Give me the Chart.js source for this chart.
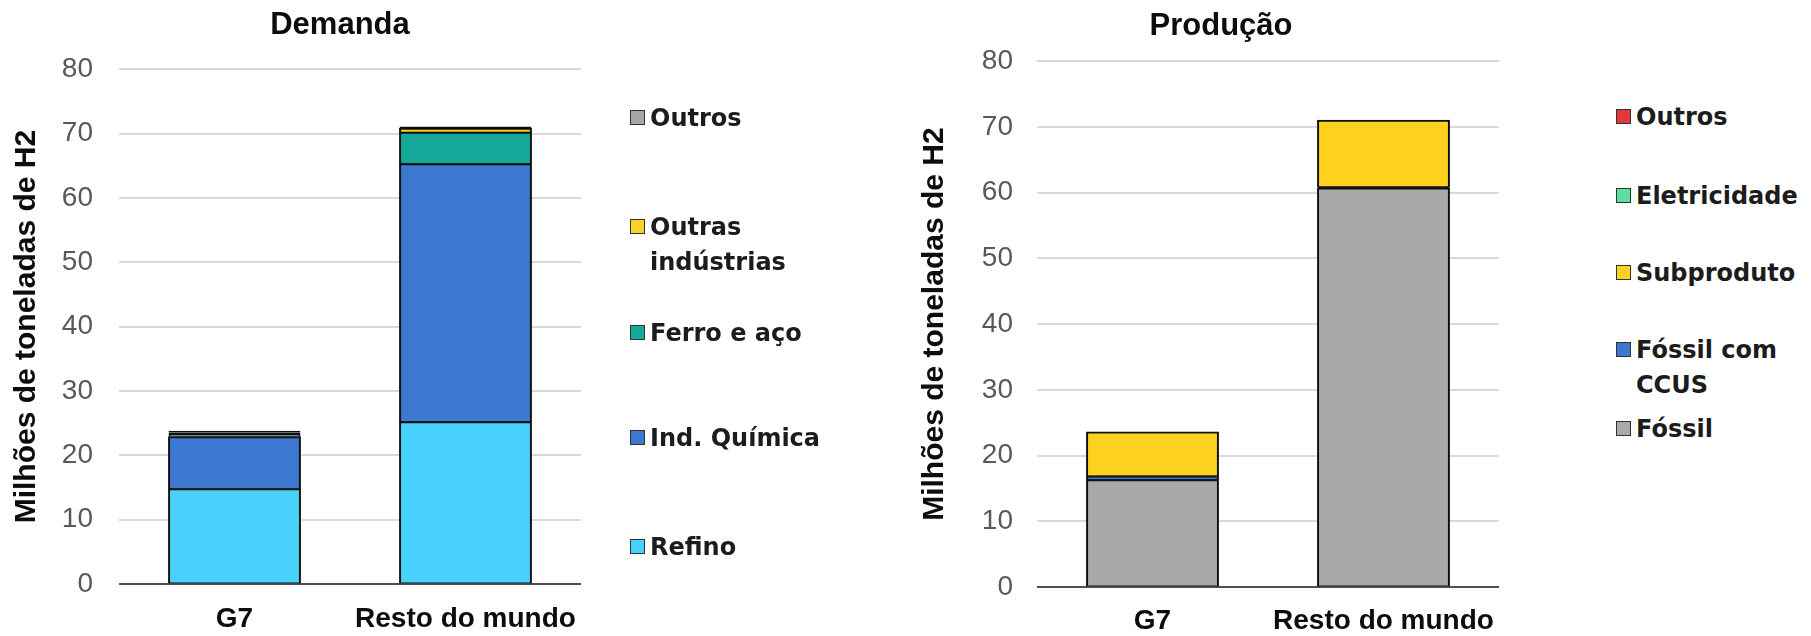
<!DOCTYPE html>
<html>
<head>
<meta charset="utf-8">
<script src="https://cdn.jsdelivr.net/npm/chart.js@4.4.1/dist/chart.umd.min.js"></script>
<style>
html,body{margin:0;padding:0;background:#ffffff;width:1811px;height:636px;overflow:hidden;position:relative;}
canvas{position:absolute;top:0;}
#c1{left:0px;}
#c2{left:900px;}
.lg{position:absolute;font-family:"DejaVu Sans",Verdana,sans-serif;font-weight:bold;font-size:24px;line-height:35px;color:#1c1c1c;z-index:2;}
.lg .sw{position:absolute;left:0;top:9.5px;width:13px;height:13px;border:1.5px solid #333333;}
.lg .tx{position:absolute;left:20px;top:0;white-space:nowrap;}
</style>
</head>
<body>
<canvas id="c1" width="680" height="636"></canvas>
<canvas id="c2" width="642" height="636"></canvas>
<script>
// ---- data ----
const categories = ['G7', 'Resto do mundo'];
const yAxisTicks = [0, 10, 20, 30, 40, 50, 60, 70, 80];
const yAxisTitle = 'Milhões de toneladas de H2';

// Demanda (bottom to top)
const demRefino = [14.8, 25.2];
const demQuimica = [8.1, 40.1];
const demFerroAco = [0.4, 4.9];
const demOutrasInd = [0.3, 0.6];
const demOutros = [0.2, 0.3];

// Produção (bottom to top)
const prodFossil = [16.3, 60.7];
const prodFossilCCUS = [0.6, 0.2];
const prodSubproduto = [6.7, 10.1];
const prodEletricidade = [0, 0];
const prodOutros = [0, 0];

Chart.defaults.font.family = '"Liberation Sans", Arial, sans-serif';

const barBorder = {top: 2, left: 2, right: 2, bottom: 1};
function ds(label, data, color) {
  return {
    label, data, backgroundColor: color, borderColor: '#111111',
    borderWidth: barBorder, borderSkipped: false,
    // very thin segments render as solid outline (as in the original)
    inflateAmount: c => (Math.abs(c.raw) < 0.5 ? 0 : 0.5),
    yAxisID: 'y', xAxisID: 'x',
    categoryPercentage: 1.0, barPercentage: 0.571
  };
}

function makeChart(id, title, datasets, L) {
  return new Chart(document.getElementById(id), {
    type: 'bar',
    data: { labels: categories, datasets: datasets },
    options: {
      responsive: false,
      animation: false,
      devicePixelRatio: 1,
      layout: { padding: 0 },
      plugins: {
        legend: { display: false },
        tooltip: { enabled: false },
        title: {
          display: true, text: title, color: '#0d0d0d',
          font: { size: 31, weight: 'bold' },
          padding: { top: L.titleTop, bottom: L.titleBottom }
        }
      },
      scales: {
        x: {
          stacked: true,
          grid: { display: false, drawTicks: false },
          border: { display: false },
          ticks: { color: '#0d0d0d', padding: L.xPad, font: { size: 28, weight: 'bold' } },
          afterFit: s => { s.height = L.xH; }
        },
        y: {
          stacked: true,
          min: yAxisTicks[0],
          max: yAxisTicks[yAxisTicks.length - 1],
          afterBuildTicks: s => { s.ticks = yAxisTicks.map(v => ({ value: v })); },
          grid: {
            color: c => (c.tick && c.tick.value === 0) ? '#505050' : '#D9D9D9',
            lineWidth: 2,
            drawTicks: false
          },
          border: { display: false },
          ticks: { color: '#595959', padding: L.yPad, font: { size: 28 } },
          title: {
            display: true, text: yAxisTitle, color: '#0d0d0d',
            font: { size: 30, weight: 'bold' },
            padding: { top: L.yTitlePad, bottom: 0 }
          },
          afterFit: s => { s.width = L.yW; }
        },
        pad: {
          type: 'linear', axis: 'y', position: 'right', display: true,
          grid: { display: false, drawTicks: false },
          border: { display: false },
          ticks: { display: false },
          afterFit: s => { s.width = L.rightW; }
        }
      }
    }
  });
}

const chart1 = makeChart('c1', 'Demanda', [
  ds('Refino', demRefino, '#48D1FA'),
  ds('Ind. Química', demQuimica, '#3C77D0'),
  ds('Ferro e aço', demFerroAco, '#14A99B'),
  ds('Outras indústrias', demOutrasInd, '#F9D12A'),
  ds('Outros', demOutros, '#A6A6A6')
], { titleTop: 7, titleBottom: 25, xPad: 18, xH: 52, yPad: 26, yTitlePad: 9, yW: 119, rightW: 99 });

const chart2 = makeChart('c2', 'Produção', [
  ds('Fóssil', prodFossil, '#A9A9A9'),
  ds('Fóssil com CCUS', prodFossilCCUS, '#3C77D0'),
  ds('Subproduto', prodSubproduto, '#FCD21E'),
  ds('Eletricidade', prodEletricidade, '#5ADFA0'),
  ds('Outros', prodOutros, '#E03A3A')
], { titleTop: 8, titleBottom: 16, xPad: 17, xH: 49, yPad: 24, yTitlePad: 17, yW: 137, rightW: 43 });

// ---- HTML legends (real text) ----
function buildLegend(chart, x, ys, wrapWidths) {
  const items = chart.data.datasets.slice().reverse();
  items.forEach((d, i) => {
    const it = document.createElement('div');
    it.className = 'lg';
    it.style.left = x + 'px';
    it.style.top = (ys[i] - 17.5) + 'px';
    const sw = document.createElement('span');
    sw.className = 'sw';
    sw.style.background = d.backgroundColor;
    const tx = document.createElement('span');
    tx.className = 'tx';
    tx.textContent = d.label;
    if (wrapWidths[d.label]) {
      tx.style.whiteSpace = 'normal';
      tx.style.width = wrapWidths[d.label] + 'px';
    }
    it.appendChild(sw);
    it.appendChild(tx);
    document.body.appendChild(it);
  });
}
buildLegend(chart1, 630, [118, 227, 333, 438, 547], { 'Outras indústrias': 145 });
buildLegend(chart2, 1616, [117, 196, 273, 350, 429], { 'Fóssil com CCUS': 150 });
</script>
</body>
</html>
